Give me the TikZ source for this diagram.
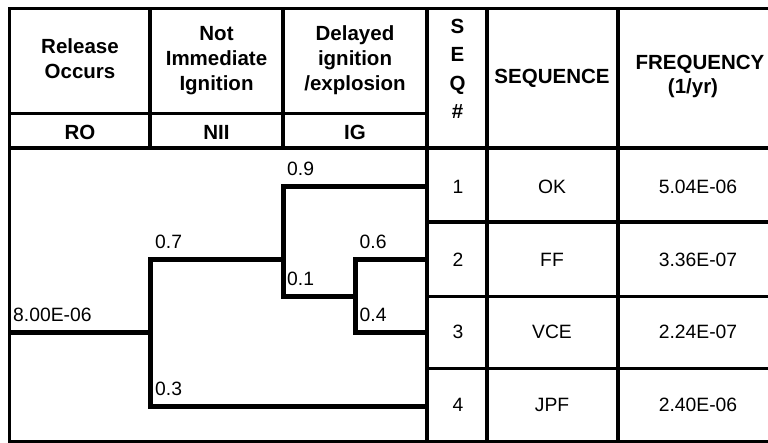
\documentclass[tikz,border=0pt]{standalone}
\usepackage{fontspec}
\setmainfont{Liberation Sans}
% centred lines stacked on a fixed baseline distance; the box baseline is the first line
\newcommand\cellstack[2][25pt]{\vtop{\baselineskip=#1\lineskiplimit=-100pt\lineskip=0pt\halign{\hfil##\hfil\cr#2\crcr}}}
\begin{document}
\begin{tikzpicture}[x=1pt,y=-1pt,
  grid/.style={line width=3.8pt},
  branch/.style={line width=5pt,line join=miter},
  head/.style={anchor=base,inner sep=0pt,font=\fontsize{20.5}{25}\selectfont\bfseries},
  body/.style={anchor=base,inner sep=0pt,font=\fontsize{19.3}{22}\selectfont},
  prob/.style={anchor=base west,inner sep=0pt,font=\fontsize{19.3}{22}\selectfont}]
\useasboundingbox (0,0) rectangle (768,443);

% table frame and rules
\draw[grid] (772,8.5) -- (9.5,8.5) -- (9.5,441.5) -- (772,441.5);
\draw[grid] (9.5,113.5) -- (427,113.5);
\draw[grid] (9.5,148) -- (772,148);
\draw[grid] (150,8.5) -- (150,148);
\draw[grid] (283,8.5) -- (283,148);
\draw[grid] (427,8.5) -- (427,441.5);
\draw[grid] (487,8.5) -- (487,441.5);
\draw[grid] (618,8.5) -- (618,441.5);
\foreach \y in {222,296.5,368.5} \draw[grid] (427,\y) -- (772,\y);

% column headings
\node[head] (hRO)  at (80,53.5)  {\cellstack{Release\cr Occurs}};
\node[head] (hNII) at (216.5,41) {\cellstack{Not\cr Immediate\cr Ignition}};
\node[head] (hIG)  at (355,41)   {\cellstack{Delayed\cr ignition\cr /explosion}};
\node[head] (hSEQ) at (457.5,33.5) {\cellstack[28.5pt]{S\cr E\cr Q\cr \#}};
\node[head] (hSeqName) at (552,83.3) {SEQUENCE};
\node[head] (hFreq) at (700,69.5) {FREQUENCY};
\node[head] (hFreqUnit) at (693,93.5) {(1/yr)};
\node[head] (tRO)  at (80,140)    {RO};
\node[head] (tNII) at (216.5,140) {NII};
\node[head] (tIG)  at (355,140)   {IG};

% event tree branch points
\coordinate (start) at (9.5,332.7);
\coordinate (n1)  at (150,332.7);
\coordinate (n1u) at (150,260);
\coordinate (n1d) at (150,406);
\coordinate (n2)  at (283,260);
\coordinate (n2u) at (283,187);
\coordinate (n2d) at (283,296.5);
\coordinate (n3)  at (355,296.5);
\coordinate (n3u) at (355,260);
\coordinate (n3d) at (355,332.7);
\coordinate (e1) at (427,187);
\coordinate (e2) at (427,260);
\coordinate (e3) at (427,332.7);
\coordinate (e4) at (427,406);

\draw[branch] (start) -- (n1);
\draw[branch] (e4) -- (n1d) -- (n1u) -- (n2);
\draw[branch] (e1) -- (n2u) -- (n2d) -- (n3);
\draw[branch] (e2) -- (n3u) -- (n3d) -- (e3);

% branch values
\node[prob] (p0)  at (13,321.7)  {8.00E-06};
\node[prob] (p07) at (155,249)   {0.7};
\node[prob] (p03) at (155,395)   {0.3};
\node[prob] (p09) at (287,176)   {0.9};
\node[prob] (p01) at (287,285.5) {0.1};
\node[prob] (p06) at (359.5,249) {0.6};
\node[prob] (p04) at (359.5,321.7) {0.4};

% sequence outcomes
\node[body] (s1) at (458,193.3) {1};
\node[body] (s2) at (458,267)   {2};
\node[body] (s3) at (458,338.5) {3};
\node[body] (s4) at (458,411.5) {4};
\node[body] (q1) at (552,193.3) {OK};
\node[body] (q2) at (552,267)   {FF};
\node[body] (q3) at (552,338.5) {VCE};
\node[body] (q4) at (552,411.5) {JPF};
\node[body] (f1) at (698,193.3) {5.04E-06};
\node[body] (f2) at (698,267)   {3.36E-07};
\node[body] (f3) at (698,338.5) {2.24E-07};
\node[body] (f4) at (698,411.5) {2.40E-06};
\end{tikzpicture}
\end{document}
